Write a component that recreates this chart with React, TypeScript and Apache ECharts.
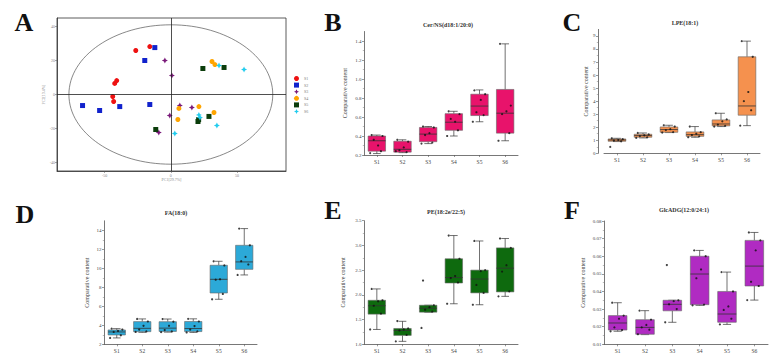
import React, { useEffect, useRef } from "react";
import * as echarts from "echarts";

const FONT = "Liberation Serif";

const GROUPS = ["S1", "S2", "S3", "S4", "S5", "S6"];

// PCA score plot (PC1, PC2)
const PCA_S1 = [[-26.5, 25.9], [-15.9, 28.2], [-40.9, 8.2], [-42.4, 6.5], [-43.9, -1.2], [-43.2, -4.1]];
const PCA_S2 = [[-12.1, 27.6], [-19.7, 20.0], [-66.7, -6.5], [-53.8, -9.4], [-38.6, -7.1], [-15.9, -5.9]];
const PCA_S3 = [[-4.5, 20.0], [0.8, 11.2], [6.8, -6.5], [15.9, -7.6], [-0.8, -12.4], [-9.1, -22.4]];
const PCA_S4 = [[31.1, 19.4], [33.3, 17.6], [6.1, -8.2], [21.2, -7.1], [5.3, -14.7], [32.6, -10.6]];
const PCA_S5 = [[24.2, 15.3], [40.2, 15.9], [28.8, -12.9], [20.5, -15.9], [-11.4, -20.6], [21.0, -14.8]];
const PCA_S6 = [[36.4, 17.1], [55.3, 14.7], [22.0, -13.5], [21.2, -12.0], [34.8, -18.2], [3.0, -22.9]];
const PCA_GROUPS = [PCA_S1, PCA_S2, PCA_S3, PCA_S4, PCA_S5, PCA_S6];
const PCA_COLORS = ["#EE1111", "#1122CC", "#7A1A7A", "#FFA500", "#0B3D0B", "#22CCEE"];
const PCA_X_TICKS = [-50, 0, 50];
const PCA_Y_TICKS = [-40, -20, 0, 20, 40];
const ELLIPSE_RADII = [77, 41];

// Box statistics per group: [min, Q1, median, Q3, max]
const CER_BOX = [
  [0.215, 0.24, 0.35, 0.40, 0.41],
  [0.225, 0.23, 0.26, 0.345, 0.36],
  [0.32, 0.34, 0.42, 0.49, 0.50],
  [0.40, 0.46, 0.545, 0.635, 0.66],
  [0.55, 0.615, 0.715, 0.84, 0.885],
  [0.35, 0.43, 0.64, 0.89, 1.37],
];
const CER_POINTS = [
  [0.41, 0.40, 0.30, 0.36, 0.24, 0.22],
  [0.36, 0.34, 0.28, 0.25, 0.23, 0.24],
  [0.50, 0.49, 0.43, 0.41, 0.33, 0.32],
  [0.66, 0.63, 0.55, 0.58, 0.46, 0.40],
  [0.88, 0.84, 0.78, 0.65, 0.62, 0.55],
  [1.37, 0.72, 0.66, 0.63, 0.43, 0.35],
];
const CER_TICKS = [0.2, 0.4, 0.6, 0.8, 1.0, 1.2, 1.4];

const LPE_BOX = [
  [0.9, 0.92, 1.02, 1.1, 1.15],
  [1.18, 1.23, 1.36, 1.46, 1.56],
  [1.59, 1.61, 1.82, 2.02, 2.15],
  [1.23, 1.30, 1.43, 1.64, 2.05],
  [2.05, 2.1, 2.25, 2.56, 3.07],
  [2.12, 2.92, 3.63, 7.4, 8.6],
];
const LPE_POINTS = [
  [1.15, 1.08, 1.02, 0.98, 0.92, 0.49],
  [1.56, 1.45, 1.38, 1.32, 1.22, 1.18],
  [2.15, 2.05, 1.85, 1.78, 1.62, 1.59],
  [2.05, 1.62, 1.5, 1.4, 1.3, 1.23],
  [3.07, 2.6, 2.45, 2.2, 2.1, 2.05],
  [8.6, 7.4, 4.7, 4.0, 3.3, 2.12],
];
const LPE_TICKS = [0, 1, 2, 3, 4, 5, 6, 7, 8, 9];

const FA_BOX = [
  [2.67, 2.98, 3.3, 3.51, 3.65],
  [3.26, 3.33, 3.68, 4.39, 4.67],
  [3.28, 3.35, 3.7, 4.38, 4.66],
  [3.25, 3.34, 3.66, 4.40, 4.68],
  [6.74, 7.4, 8.84, 10.32, 10.74],
  [9.3, 9.89, 10.67, 12.42, 14.18],
];
const FA_POINTS = [
  [3.65, 3.55, 3.4, 3.3, 2.95, 2.67],
  [4.67, 4.4, 3.95, 3.55, 3.35, 3.3],
  [4.66, 4.38, 3.95, 3.5, 3.35, 3.28],
  [4.68, 4.4, 3.92, 3.55, 3.36, 3.25],
  [10.74, 10.3, 8.84, 8.8, 7.3, 6.74],
  [14.18, 12.42, 11.2, 10.75, 10.4, 9.3],
];
const FA_TICKS = [2, 4, 6, 8, 10, 12, 14];

const PE_BOX = [
  [1.30, 1.61, 1.78, 1.89, 2.12],
  [1.06, 1.18, 1.28, 1.32, 1.465],
  [1.65, 1.65, 1.73, 1.79, 1.79],
  [1.82, 2.24, 2.35, 2.73, 3.20],
  [1.80, 2.04, 2.32, 2.50, 3.09],
  [1.97, 2.06, 2.54, 2.95, 3.14],
];
const PE_POINTS = [
  [2.12, 1.89, 1.87, 1.78, 1.62, 1.30],
  [1.47, 1.32, 1.30, 1.28, 1.19, 1.06],
  [2.29, 1.79, 1.75, 1.70, 1.66, 1.33],
  [3.20, 2.73, 2.38, 2.34, 2.25, 1.82],
  [3.09, 2.50, 2.48, 2.20, 2.04, 1.80],
  [3.14, 2.95, 2.60, 2.47, 2.07, 1.97],
];
const PE_TICKS = [1.0, 1.5, 2.0, 2.5, 3.0, 3.5];

const GLC_BOX = [
  [0.0174, 0.0181, 0.0221, 0.0263, 0.0336],
  [0.0155, 0.0157, 0.0196, 0.024, 0.0291],
  [0.0225, 0.029, 0.0327, 0.035, 0.035],
  [0.0321, 0.0325, 0.0499, 0.060, 0.0633],
  [0.0213, 0.0225, 0.0272, 0.040, 0.051],
  [0.0351, 0.0431, 0.0544, 0.069, 0.0735],
];
const GLC_POINTS = [
  [0.0336, 0.0263, 0.0245, 0.0196, 0.0181, 0.0174],
  [0.0291, 0.024, 0.021, 0.0196, 0.0183, 0.0157],
  [0.055, 0.035, 0.0345, 0.0327, 0.0300, 0.0225],
  [0.0633, 0.060, 0.0525, 0.0475, 0.0325, 0.0321],
  [0.051, 0.040, 0.0315, 0.0295, 0.0245, 0.0213],
  [0.0735, 0.069, 0.0633, 0.0455, 0.0431, 0.0351],
];
const GLC_TICKS = [0.01, 0.02, 0.03, 0.04, 0.05, 0.06, 0.07, 0.08];

// Horizontal spread of the sample dots inside each box (in category units)
const JITTER = [-0.2, 0.22, 0.05, -0.12, 0.16, -0.26];

const STAR = "path://M0,-10 L3.2,-3.2 L10,0 L3.2,3.2 L0,10 L-3.2,3.2 L-10,0 L-3.2,-3.2 Z";
const PCA_SYMBOLS = ["circle", "rect", STAR, "circle", "rect", STAR];
const PCA_SIZES = [5, 5, 6, 5, 5, 6];

const PANELS = [
  { title: "Cer/NS(d18:1/20:0)", color: "#E8136B", box: CER_BOX, points: CER_POINTS, ticks: CER_TICKS, min: 0.2, max: 1.5, step: 0.2, digits: 1 },
  { title: "LPE(18:1)", color: "#F5914E", box: LPE_BOX, points: LPE_POINTS, ticks: LPE_TICKS, min: 0, max: 9.5, step: 1, digits: 0 },
  { title: "FA(18:0)", color: "#2CA9D8", box: FA_BOX, points: FA_POINTS, ticks: FA_TICKS, min: 2, max: 15, step: 2, digits: 0 },
  { title: "PE(18:2e/22:5)", color: "#0E6A0E", box: PE_BOX, points: PE_POINTS, ticks: PE_TICKS, min: 1, max: 3.5, step: 0.5, digits: 1 },
  { title: "GlcADG(12:0/24:1)", color: "#B02BC2", box: GLC_BOX, points: GLC_POINTS, ticks: GLC_TICKS, min: 0.01, max: 0.08, step: 0.01, digits: 2 },
];

const PANEL_LAYOUT = [
  { left: 364, top: 31.5, width: 154, height: 123.5, nameGap: 16, offset: 0, titleX: 448, titleY: 25 },
  { left: 604, top: 29.4, width: 156, height: 123.9, nameGap: 6, offset: 6, titleX: 685, titleY: 23 },
  { left: 104, top: 220.8, width: 153, height: 123.5, nameGap: 14, offset: 0, titleX: 176, titleY: 213 },
  { left: 364, top: 220.7, width: 154, height: 123.6, nameGap: 18, offset: 0, titleX: 446, titleY: 212 },
  { left: 604, top: 221, width: 164, height: 123.3, nameGap: 18, offset: 0, titleX: 684, titleY: 210 },
];

const LETTERS = [
  { text: "A", x: 24, y: 22 },
  { text: "B", x: 333, y: 22 },
  { text: "C", x: 572, y: 22 },
  { text: "D", x: 25, y: 214 },
  { text: "E", x: 333, y: 210 },
  { text: "F", x: 572, y: 210 },
];

const AXIS_COLOR = "#555";
const TEXT_COLOR = "#444";

function boxRenderer(color: string) {
  return (_params: any, api: any) => {
    const i = api.value(0);
    const low = api.coord([i, api.value(1)]);
    const q1 = api.coord([i, api.value(2)]);
    const med = api.coord([i, api.value(3)]);
    const q3 = api.coord([i, api.value(4)]);
    const high = api.coord([i, api.value(5)]);
    const band = api.size([1, 0])[0];
    const bw = band * 0.68;
    const cw = band * 0.3;
    const cx = med[0];
    const whisker = { stroke: "#333", lineWidth: 0.7 };
    return {
      type: "group",
      children: [
        { type: "line", shape: { x1: cx, y1: q3[1], x2: cx, y2: high[1] }, style: whisker },
        { type: "line", shape: { x1: cx, y1: q1[1], x2: cx, y2: low[1] }, style: whisker },
        { type: "line", shape: { x1: cx - cw / 2, y1: high[1], x2: cx + cw / 2, y2: high[1] }, style: whisker },
        { type: "line", shape: { x1: cx - cw / 2, y1: low[1], x2: cx + cw / 2, y2: low[1] }, style: whisker },
        {
          type: "rect",
          shape: { x: cx - bw / 2, y: q3[1], width: bw, height: q1[1] - q3[1] },
          style: { fill: color, stroke: "#666", lineWidth: 0.6 },
        },
        { type: "line", shape: { x1: cx - bw / 2, y1: med[1], x2: cx + bw / 2, y2: med[1] }, style: { stroke: "#333", lineWidth: 0.8 } },
      ],
    };
  };
}

function buildOption() {
  const grid: any[] = [
    { left: 57, top: 18, width: 229, height: 153, show: true, borderColor: "#333", borderWidth: 0.8, backgroundColor: "transparent" },
  ];
  const xAxis: any[] = [
    {
      gridIndex: 0,
      type: "value",
      min: -86,
      max: 87,
      axisLine: { show: true, onZero: false, lineStyle: { color: "#333", width: 0.8 } },
      axisTick: { show: true, length: 2, customValues: PCA_X_TICKS, lineStyle: { color: "#555", width: 0.5 } },
      axisLabel: { customValues: PCA_X_TICKS, fontSize: 4, color: "#888", margin: 2, fontFamily: FONT },
      splitLine: { show: false },
      name: "PC1[29.7%]",
      nameLocation: "middle",
      nameGap: 6,
      nameTextStyle: { fontSize: 4, color: "#888", fontFamily: FONT },
    },
  ];
  const yAxis: any[] = [
    {
      gridIndex: 0,
      type: "value",
      min: -45,
      max: 45,
      axisLine: { show: true, onZero: false, lineStyle: { color: "#333", width: 0.8 } },
      axisTick: { show: true, length: 2, customValues: PCA_Y_TICKS, lineStyle: { color: "#555", width: 0.5 } },
      axisLabel: { customValues: PCA_Y_TICKS, fontSize: 4, color: "#888", margin: 2, fontFamily: FONT },
      splitLine: { show: false },
      name: "PC2[13.4%]",
      nameLocation: "middle",
      nameGap: 12,
      nameTextStyle: { fontSize: 4, color: "#888", fontFamily: FONT },
    },
  ];
  const series: any[] = [
    {
      type: "custom",
      coordinateSystem: "cartesian2d",
      xAxisIndex: 0,
      yAxisIndex: 0,
      silent: true,
      z: 1,
      data: [ELLIPSE_RADII],
      encode: { x: 0, y: 1 },
      renderItem: (_p: any, api: any) => {
        const c = api.coord([0, 0]);
        const e = api.coord([api.value(0), api.value(1)]);
        return {
          type: "ellipse",
          shape: { cx: c[0], cy: c[1], rx: e[0] - c[0], ry: c[1] - e[1] },
          style: { fill: "none", stroke: "#555", lineWidth: 0.7 },
        };
      },
    },
  ];

  PCA_GROUPS.forEach((pts, i) => {
    series.push({
      type: "scatter",
      name: GROUPS[i],
      xAxisIndex: 0,
      yAxisIndex: 0,
      data: pts,
      symbol: PCA_SYMBOLS[i],
      symbolSize: PCA_SIZES[i],
      itemStyle: { color: PCA_COLORS[i], opacity: 1 },
      z: 3,
      markLine:
        i === 0
          ? {
              silent: true,
              symbol: "none",
              label: { show: false },
              lineStyle: { color: "#222", width: 0.8, type: "solid" },
              data: [{ xAxis: 0 }, { yAxis: 0 }],
            }
          : undefined,
    });
  });

  PANELS.forEach((p, k) => {
    const L = PANEL_LAYOUT[k];
    const g = k + 1;
    grid.push({ left: L.left, top: L.top, width: L.width, height: L.height });
    const catIndex = xAxis.length;
    xAxis.push({
      gridIndex: g,
      type: "category",
      data: GROUPS,
      boundaryGap: true,
      axisLine: { show: true, onZero: false, lineStyle: { color: AXIS_COLOR, width: 0.8 } },
      axisTick: { show: true, alignWithLabel: true, length: 2, lineStyle: { color: AXIS_COLOR, width: 0.6 } },
      axisLabel: { fontSize: 5.5, color: TEXT_COLOR, margin: 4, fontFamily: FONT },
      splitLine: { show: false },
    });
    const valIndex = xAxis.length;
    xAxis.push({ gridIndex: g, type: "value", min: -0.5, max: 5.5, show: false });
    yAxis.push({
      gridIndex: g,
      type: "value",
      min: p.min,
      max: p.max,
      interval: p.step,
      offset: L.offset,
      axisLine: { show: true, onZero: false, lineStyle: { color: AXIS_COLOR, width: 0.8 } },
      axisTick: { show: true, length: 2, customValues: p.ticks, lineStyle: { color: AXIS_COLOR, width: 0.6 } },
      minorTick: { show: true, splitNumber: 2, length: 1.2, lineStyle: { color: "#777", width: 0.5 } },
      axisLabel: {
        customValues: p.ticks,
        formatter: (v: number) => v.toFixed(p.digits),
        fontSize: 5,
        color: TEXT_COLOR,
        margin: 2.5,
        fontFamily: FONT,
      },
      splitLine: { show: false },
      name: "Comparative content",
      nameLocation: "middle",
      nameGap: L.nameGap,
      nameTextStyle: { fontSize: 6, color: TEXT_COLOR, fontFamily: FONT },
    });
    series.push({
      type: "custom",
      coordinateSystem: "cartesian2d",
      xAxisIndex: catIndex,
      yAxisIndex: g,
      silent: true,
      z: 2,
      data: p.box.map((b, i) => [i, ...b]),
      encode: { x: 0, y: [1, 2, 3, 4, 5] },
      renderItem: boxRenderer(p.color),
    });
    series.push({
      type: "scatter",
      xAxisIndex: valIndex,
      yAxisIndex: g,
      silent: true,
      z: 5,
      symbolSize: 2.2,
      itemStyle: { color: "#111" },
      data: p.points.flatMap((vals, i) => vals.map((v, j) => [i + JITTER[j % JITTER.length], v])),
    });
  });

  const graphic: any[] = [];
  LETTERS.forEach((l) => {
    graphic.push({
      type: "text",
      x: l.x,
      y: l.y,
      style: { text: l.text, font: `bold 26px "${FONT}"`, fill: "#111", align: "center", verticalAlign: "middle" },
    });
  });
  PANELS.forEach((p, k) => {
    const L = PANEL_LAYOUT[k];
    graphic.push({
      type: "text",
      x: L.titleX,
      y: L.titleY,
      style: { text: p.title, font: `bold 6px "${FONT}"`, fill: "#333", align: "center", verticalAlign: "middle" },
    });
  });

  return {
    animation: false,
    backgroundColor: "#fff",
    textStyle: { fontFamily: FONT },
    legend: {
      data: GROUPS,
      orient: "vertical",
      left: 294,
      top: 76,
      padding: 0,
      itemWidth: 5,
      itemHeight: 5,
      itemGap: 1.6,
      selectedMode: false,
      textStyle: { fontSize: 4, color: "#777", fontFamily: FONT },
    },
    grid,
    xAxis,
    yAxis,
    series,
    graphic,
  };
}

export default function App() {
  const ref = useRef<HTMLDivElement>(null);
  useEffect(() => {
    const chart = echarts.init(ref.current!, null, { renderer: "svg" });
    chart.setOption(buildOption() as any);
    return () => chart.dispose();
  }, []);
  return <div ref={ref} style={{ position: "absolute", left: 0, top: 0, width: 771, height: 363 }} />;
}
